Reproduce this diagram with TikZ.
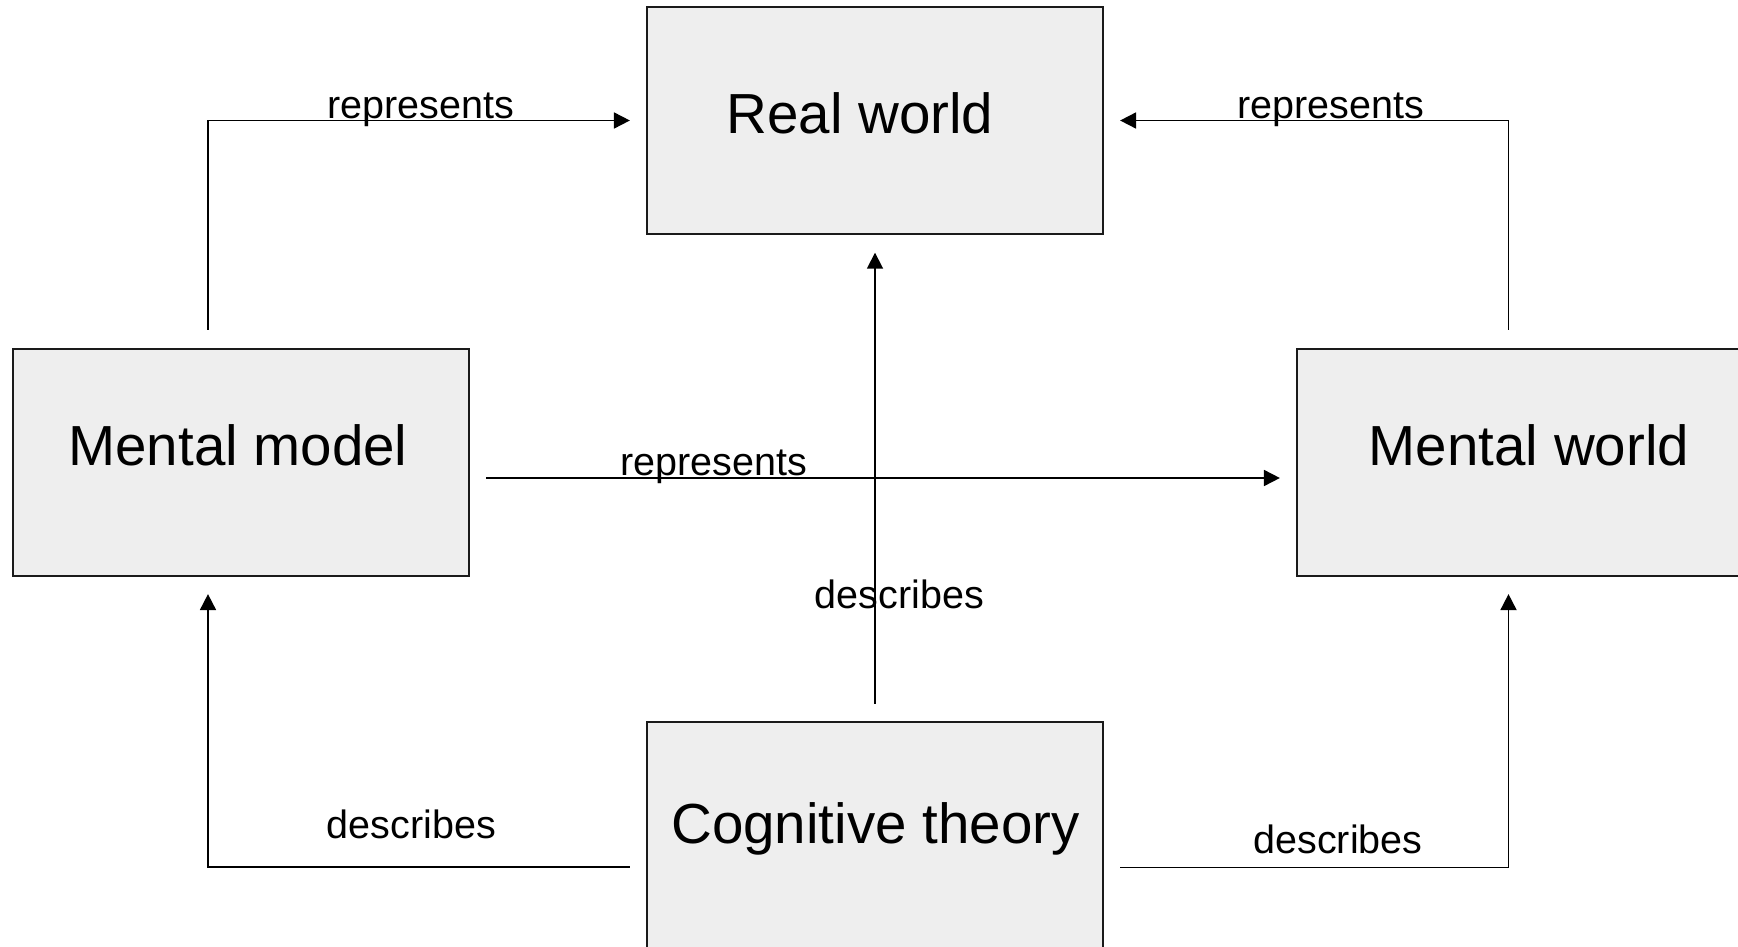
\documentclass[tikz,border=0pt]{standalone}
\usepackage{fontspec}
\setmainfont{Liberation Sans}
\usetikzlibrary{arrows.meta,calc}
\definecolor{boxfill}{HTML}{EEEEEE}
\definecolor{boxline}{HTML}{1A1A1A}
\begin{document}
\begin{tikzpicture}[x=1pt,y=-1pt,
  box/.style={draw=boxline,fill=boxfill,line width=2.2pt,minimum width=456pt,minimum height=227pt,inner sep=0pt},
  boxtext/.style={anchor=base,inner sep=0pt,font=\fontsize{56.5}{60}\selectfont},
  lbl/.style={anchor=base,inner sep=0pt,font=\fontsize{39.5}{44}\selectfont},
  arr/.style={line width=1.8pt,-{Triangle[length=16pt,width=16pt]}},
  conn/.style={line width=1.8pt}]
\useasboundingbox (0,0) rectangle (1738,947);
\clip (0,0) rectangle (1738,947);
\fill[white] (0,0) rectangle (1738,947);
% boxes
\node[box] (rw) at (875,120.5) {};
\node[box] (mm) at (241,462.5) {};
\node[box] (mw) at (1525,462.5) {};
\node[box] (ct) at (875,835.5) {};
% box texts
\node[boxtext] (rwt) at (860,134) {Real world};
\node[boxtext] (mmt) at (238,465) {Mental model};
\node[boxtext] (mwt) at (1529,465) {Mental world};
\node[boxtext] (ctt) at (875.5,843.5) {Cognitive theory};
% connectors
\draw[arr] ($(mm.north)+(-33,-18)$) |- ($(rw.west)+(-16,0)$);
\draw[arr] ($(mw.north)+(-16.5,-18)$) |- ($(rw.east)+(16,0)$);
\draw[arr] ($(mm.east)+(16,15.5)$) -- ($(mw.west)+(-16,15.5)$);
\draw[arr] ($(ct.north)+(0,-17)$) -- ($(rw.south)+(0,17.6)$);
\draw[arr] ($(ct.west)+(-16,31.5)$) -| ($(mm.south)+(-33,17)$);
\draw[arr] ($(ct.east)+(16,32)$) -| ($(mw.south)+(-16.5,17)$);
% labels
\node[lbl] (l1) at (420.6,118.5) {represents};
\node[lbl] (l2) at (1331,118.5) {represents};
\node[lbl] (l3) at (713.5,475) {represents};
\node[lbl] (l4) at (899.5,608) {describes};
\node[lbl] (l5) at (411.3,838) {describes};
\node[lbl] (l6) at (1338,853) {describes};
\end{tikzpicture}
\end{document}
